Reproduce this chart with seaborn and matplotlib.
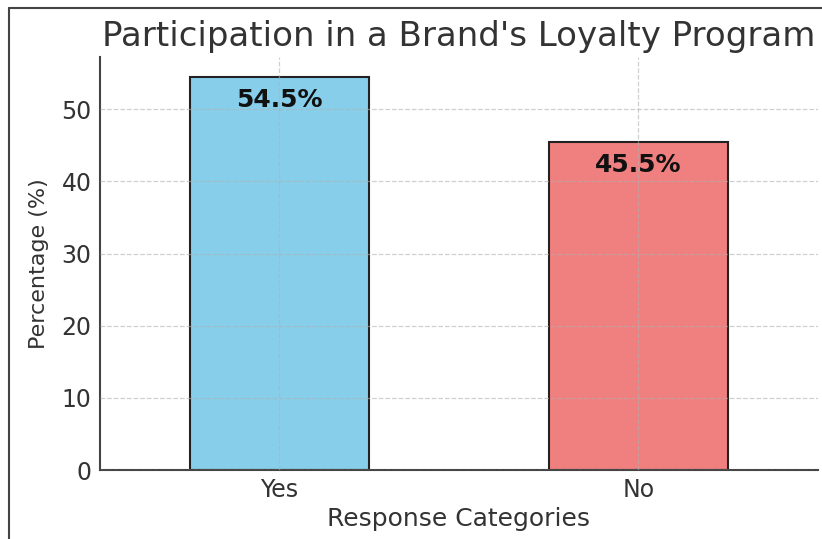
import matplotlib
matplotlib.use("Agg")
import matplotlib.pyplot as plt
import seaborn as sns
import pandas as pd

categories = ["Yes", "No"]
percentages = [54.5, 45.5]
bar_colors = ["#87CEEB", "#F08080"]

df = pd.DataFrame({"Response": categories, "Percentage": percentages})

sns.set_style("white")
plt.rcParams["font.family"] = ["DejaVu Sans"]

fig = plt.figure(figsize=(8.22, 5.39), dpi=100)
ax = fig.add_axes([0.1217, 0.128, 0.873, 0.766])

sns.barplot(data=df, x="Response", y="Percentage", hue="Response",
            palette=bar_colors, width=0.5, saturation=1, edgecolor="#222222",
            linewidth=1.5, legend=False, ax=ax, zorder=1)

ax.set_ylim(0, max(percentages) * 1.05)
ax.set_xlim(-0.5, len(categories) - 0.5)

ax.set_axisbelow(False)
ax.grid(True, linestyle="--", color="#b0b0b0", linewidth=0.9, alpha=0.6, zorder=2)

for i, v in enumerate(percentages):
    ax.text(i, v - 1.6, f"{v}%", ha="center", va="top",
            fontsize=18, fontweight="bold", color="#111111", zorder=3)

ax.set_title("Participation in a Brand's Loyalty Program", fontsize=24.5,
             color="#333333", pad=8)
ax.set_xlabel("Response Categories", fontsize=18, color="#333333", labelpad=3)
ax.set_ylabel("Percentage (%)", fontsize=16, color="#333333", labelpad=9)
ax.tick_params(axis="both", direction="in", labelsize=17, colors="#333333",
               length=5, width=1.2, pad=6)

for side in ["top", "right"]:
    ax.spines[side].set_visible(False)
for side in ["left", "bottom"]:
    ax.spines[side].set_color("#444444")
    ax.spines[side].set_linewidth(1.5)

# thin frame along the top and left edges of the canvas
fig.add_artist(plt.Line2D([9 / 822, 9 / 822], [0, 1 - 8 / 539],
                          transform=fig.transFigure, color="#444444", linewidth=1.5))
fig.add_artist(plt.Line2D([9 / 822, 1], [1 - 8 / 539, 1 - 8 / 539],
                          transform=fig.transFigure, color="#444444", linewidth=1.5))

fig.savefig("out.png", dpi=100)
